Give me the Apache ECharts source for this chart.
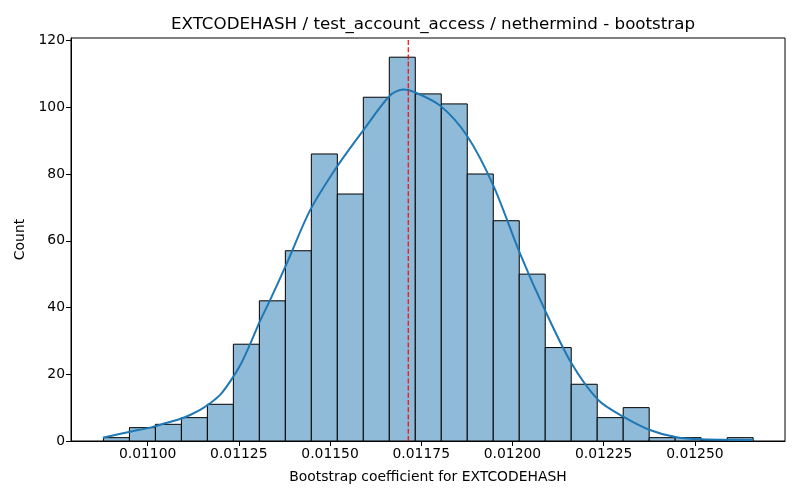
<!DOCTYPE html>
<html>
<head>
<meta charset="utf-8">
<script src="https://cdn.jsdelivr.net/npm/echarts@6/dist/echarts.min.js"></script>
<style>
  html, body { margin: 0; padding: 0; background: #fff; }
  #chart { width: 800px; height: 500px; }
</style>
</head>
<body>
<div id="chart"></div>
<script>
// histogram bins (left edge, width) and counts
const binStart = 0.0108789;
const binWidth = 0.00007123;
const counts = [1, 4, 5, 7, 11, 29, 42, 57, 86, 74, 103, 115, 104, 101, 80, 66, 50, 28, 17, 7, 10, 1, 1, 0, 1];

// kde curve
const kdeX = [0.0108773, 0.0109521, 0.0110068, 0.0110479, 0.0110890, 0.0111164, 0.0111438, 0.0111712,
  0.0111986, 0.0112260, 0.0112534, 0.0112808, 0.0113082, 0.0113356, 0.0113814, 0.0114452, 0.0115184,
  0.0115912, 0.0116644, 0.0117008, 0.0117282, 0.0118014, 0.0118745, 0.0119474, 0.0120205, 0.0120890,
  0.0121622, 0.0122351, 0.0123036, 0.0123767, 0.0124499, 0.0125184, 0.0126589];
const kdeY = [1.0, 2.8, 4.0, 5.3, 6.6, 7.8, 9.3, 11.3, 13.8, 17.8, 22.6, 29.0, 36.0, 42.2, 53.2, 69.1,
  82.1, 93.1, 103.5, 105.3, 104.7, 100.5, 91.6, 76.6, 56.2, 39.2, 23.2, 12.3, 7.3, 3.3, 1.1, 0.5, 0.3];

const meanValue = 0.0117144;
const xTicks = [0.011, 0.01125, 0.0115, 0.01175, 0.012, 0.01225, 0.0125];
const yTicks = [0, 20, 40, 60, 80, 100, 120];
const yMax = 120.75;

const histData = counts.map((c, i) => [binStart + i * binWidth, binStart + (i + 1) * binWidth, c]);
const kdeData = kdeX.map((x, i) => [x, kdeY[i]]);
const meanData = [[meanValue, 0], [meanValue, yMax]];

const font = 'DejaVu Sans';
let chart = echarts.init(document.getElementById('chart'));
let option = {
    animation: false,
    backgroundColor: '#fff',
    title: {
        text: 'EXTCODEHASH / test_account_access / nethermind - bootstrap',
        left: 428,
        top: 11,
        textAlign: 'center',
        textStyle: { fontFamily: font, fontSize: 16.7, fontWeight: 'normal', color: '#000' }
    },
    grid: {
        left: 71, right: 15, top: 38, bottom: 59,
        show: true, borderColor: '#000', borderWidth: 1
    },
    xAxis: {
        type: 'value',
        min: 0.01079,
        max: 0.012747,
        name: 'Bootstrap coefficient for EXTCODEHASH',
        nameLocation: 'middle',
        nameGap: 29,
        nameTextStyle: { fontFamily: font, fontSize: 13.9, color: '#000' },
        splitLine: { show: false },
        axisLine: { show: true, lineStyle: { color: '#000', width: 1 } },
        axisTick: { show: true, length: 5, customValues: xTicks, lineStyle: { color: '#000' } },
        axisLabel: {
            customValues: xTicks,
            fontFamily: font, fontSize: 13.9, color: '#000', margin: 6,
            formatter: v => v.toFixed(5)
        }
    },
    yAxis: {
        type: 'value',
        min: 0,
        max: yMax,
        name: 'Count',
        nameLocation: 'middle',
        nameGap: 42,
        nameTextStyle: { fontFamily: font, fontSize: 13.9, color: '#000' },
        splitLine: { show: false },
        axisLine: { show: true, lineStyle: { color: '#000', width: 1 } },
        axisTick: { show: true, length: 5, customValues: yTicks, lineStyle: { color: '#000' } },
        axisLabel: {
            customValues: yTicks,
            fontFamily: font, fontSize: 13.9, color: '#000', margin: 6
        }
    },
    series: [
        {
            type: 'custom',
            data: histData,
            encode: { x: [0, 1], y: 2 },
            renderItem: function (params, api) {
                const p0 = api.coord([api.value(0), 0]);
                const p1 = api.coord([api.value(1), api.value(2)]);
                return {
                    type: 'rect',
                    shape: { x: p0[0], y: p1[1], width: p1[0] - p0[0], height: p0[1] - p1[1] },
                    style: { fill: '#8fbbd9', stroke: '#000', lineWidth: 1 }
                };
            },
            z: 2
        },
        {
            type: 'line',
            data: kdeData,
            smooth: 0.3,
            showSymbol: false,
            lineStyle: { color: '#1f77b4', width: 2 },
            z: 3
        },
        {
            type: 'line',
            data: meanData,
            showSymbol: false,
            lineStyle: { color: '#ff0000', type: [5, 2.2], width: 1.2 },
            z: 4
        }
    ]
};
chart.setOption(option);
</script>
</body>
</html>
